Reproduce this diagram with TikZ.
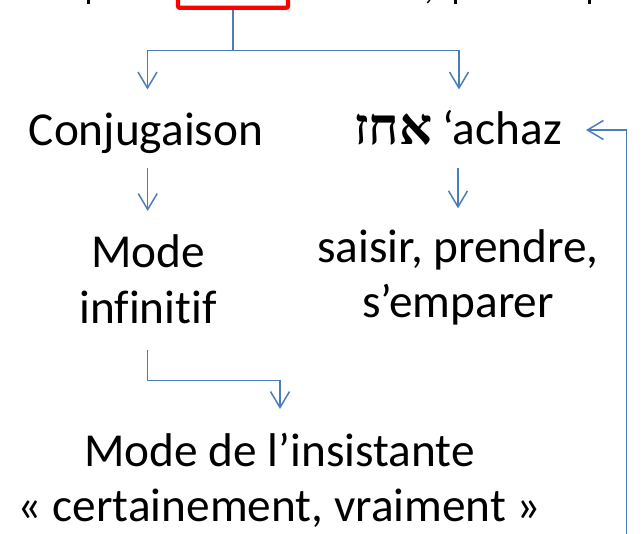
\documentclass[tikz,border=0pt]{standalone}
\usepackage{fontspec}
\setmainfont{Carlito}[Ligatures=NoCommon]
\newfontfamily\hebfont[Script=Hebrew, Scale=1.09]{Liberation Serif}
\TeXXeTstate=1
\usetikzlibrary{arrows.meta}
\definecolor{connblue}{HTML}{4A7EBB}
\definecolor{boxred}{HTML}{FF0000}
\tikzset{
  conn/.style={draw=connblue, line width=1.5pt},
  arr/.style={conn, -{Straight Barb[length=16pt, width=19pt]}},
  lbl/.style={inner sep=0pt, anchor=base, align=center,
    font=\fontsize{47.3}{55}\selectfont},
  redbox/.style={draw=boxred, line width=4.3pt, rounded corners=2pt,
    minimum width=110pt, minimum height=40pt, inner sep=0pt, anchor=south},
  frag/.style={fill=black}
}
\begin{document}
\begin{tikzpicture}[x=1pt, y=-1pt]
\useasboundingbox (0,0) rectangle (644,534);
\begin{scope}
\clip (0,0) rectangle (644,534);
% red box (only its lower edge is visible)
\node[redbox] (box) at (233,10) {};
% descenders of the clipped text line above
\fill[frag] (86.5,0) rectangle (89.5,4);
\draw[line width=1.4pt] (429.8,0) -- (427.3,3);
\fill[frag] (453.5,0) rectangle (456.5,4.5);
\fill[frag] (587.8,0) rectangle (590.8,4);
\end{scope}

% labels (base anchor = baseline of the last line)
\node[lbl] (conj) at (146,146) {Conjugaison};
\node[lbl] (achaz) at (458,145) {{\hebfont\bfseries\beginR אחז\endR}\hspace{10pt}‘achaz};
\node[lbl] (mode) at (148,323) {Mode\\infinitif};
\node[lbl] (saisir) at (458,317) {saisir, prendre,\\s’emparer};
\node[lbl] (insist) at (279.5,521.7) {Mode de l’insistante\\« certainement, vraiment »};

% helper points
\coordinate (split) at (233,50.5);
\coordinate (loopbot) at (626.7,534);
\coordinate (loopcorner) at (626.7,130);
\coordinate (looptip) at (586,130);

% connectors
\draw[conn] (box.south) -- (split);
\draw[arr] (split) -| (147.5,89.5);
\draw[arr] (split) -| (459,89.5);
\draw[arr] (147.7,168) -- (147.7,211);
\draw[arr] (458,168) -- (458,208.3);
\draw[arr] (147.3,350) |- (280,380.7) -- (280,409);
\draw[arr] (loopbot) -- (loopcorner) -- (looptip);
\end{tikzpicture}
\end{document}
